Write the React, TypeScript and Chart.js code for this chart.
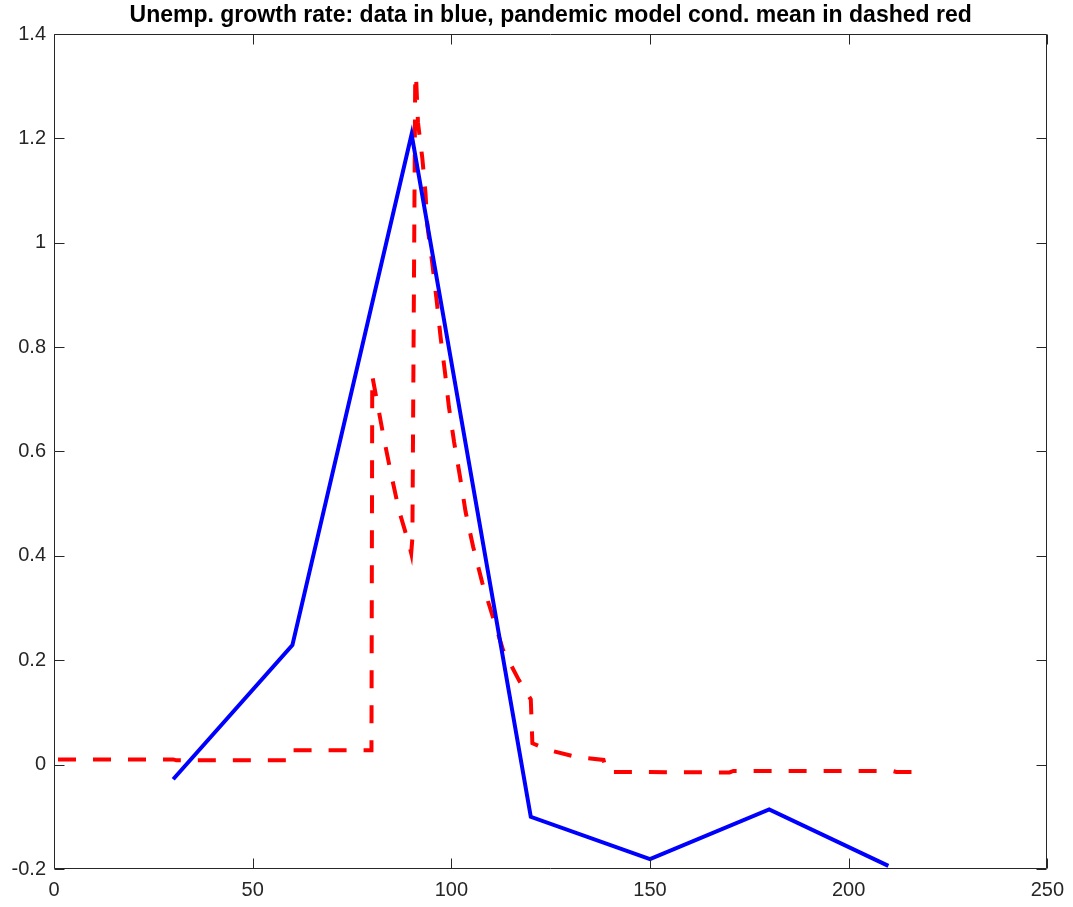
import React, { useEffect, useRef } from "react";
import { Chart, registerables } from "chart.js";

Chart.register(...registerables);

const titleText = "Unemp. growth rate: data in blue, pandemic model cond. mean in dashed red";

const xTicks = [0, 50, 100, 150, 200, 250];
const xTickLabels = ["0", "50", "100", "150", "200", "250"];
const yTicks = [-0.2, 0, 0.2, 0.4, 0.6, 0.8, 1, 1.2, 1.4];
const yTickLabels = ["-0.2", "0", "0.2", "0.4", "0.6", "0.8", "1", "1.2", "1.4"];

// Data (blue, solid)
const dataX = [30, 60, 90, 120, 150, 180, 210];
const dataY = [-0.028, 0.229, 1.208, -0.1, -0.181, -0.086, -0.194];

// Pandemic model conditional mean (red, dashed)
const modelX = [
  1, 30, 30.8, 60, 60.2, 79.9, 80.1, 81.4, 83.1, 84.9, 86.8, 89.4, 89.9, 90.2,
  90.9, 91.1, 91.6, 92.7, 93.5, 93.95, 95.2, 96.3, 97.3, 98.4, 99.4, 100.7,
  102.2, 103.6, 105.5, 107.8, 110.3, 113.0, 117.0, 120.0, 120.4, 124.5, 131.3,
  138.3, 139.1, 170, 171, 211, 212, 220,
];
const modelY = [
  0.01, 0.01, 0.0082, 0.0082, 0.0274, 0.0274, 0.745, 0.692, 0.622, 0.555,
  0.488, 0.421, 0.405, 0.434, 1.3, 1.322, 1.231, 1.162, 1.095, 1.034, 0.961,
  0.89, 0.819, 0.752, 0.685, 0.618, 0.551, 0.484, 0.417, 0.348, 0.287, 0.22,
  0.162, 0.125, 0.041, 0.028, 0.015, 0.009, -0.014, -0.015, -0.012, -0.012,
  -0.014, -0.014,
];

const AXIS_COLOR = "#262626";
const FONT_FAMILY = "'Liberation Sans', Arial, Helvetica, sans-serif";

const boxPlugin = {
  id: "matlabBox",
  afterDraw(chart: any) {
    const { ctx, chartArea } = chart;
    const { left, right, top, bottom } = chartArea;
    const xs = chart.scales.x;
    const ys = chart.scales.y;
    const L = Math.round(left) + 0.5;
    const R = Math.round(right) - 0.5;
    const T = Math.round(top) + 0.5;
    const B = Math.round(bottom) - 0.5;
    const tl = 10;
    ctx.save();
    ctx.strokeStyle = AXIS_COLOR;
    ctx.lineWidth = 1;
    ctx.beginPath();
    ctx.rect(L, T, R - L, B - T);
    xTicks.forEach((v) => {
      const px = Math.round(xs.getPixelForValue(v)) + 0.5;
      ctx.moveTo(px, B);
      ctx.lineTo(px, B - tl);
      ctx.moveTo(px, T);
      ctx.lineTo(px, T + tl);
    });
    yTicks.forEach((v) => {
      const py = Math.round(ys.getPixelForValue(v)) + 0.5;
      ctx.moveTo(L, py);
      ctx.lineTo(L + tl, py);
      ctx.moveTo(R, py);
      ctx.lineTo(R - tl, py);
    });
    ctx.stroke();
    ctx.restore();
  },
};

export default function App() {
  const ref = useRef<HTMLCanvasElement | null>(null);

  useEffect(() => {
    if (!ref.current) return;
    const chart = new Chart(ref.current, {
      type: "line",
      data: {
        datasets: [
          {
            label: "data",
            data: dataX.map((x, i) => ({ x, y: dataY[i] })),
            borderColor: "#0000FF",
            borderWidth: 4,
            pointRadius: 0,
            tension: 0,
            fill: false,
            borderJoinStyle: "miter",
          },
          {
            label: "model",
            data: modelX.map((x, i) => ({ x, y: modelY[i] })),
            borderColor: "#FF0000",
            borderWidth: 4,
            borderDash: [18, 17],
            pointRadius: 0,
            tension: 0,
            fill: false,
          },
        ],
      },
      options: {
        animation: false,
        responsive: false,
        maintainAspectRatio: false,
        layout: { padding: { left: 0, right: 23, top: 0, bottom: 0 } },
        plugins: {
          legend: { display: false },
          tooltip: { enabled: false },
          title: {
            display: true,
            fullSize: false,
            text: titleText,
            color: "#000000",
            font: { family: FONT_FAMILY, size: 23, weight: "bold" },
            padding: { top: 2, bottom: 4.4 },
          },
        },
        scales: {
          x: {
            type: "linear",
            min: 0,
            max: 250,
            grid: { display: false, drawTicks: false },
            border: { display: false },
            afterBuildTicks: (scale: any) => {
              scale.ticks = xTicks.map((v) => ({ value: v }));
            },
            afterFit: (scale: any) => {
              scale.height = 38;
            },
            ticks: {
              color: AXIS_COLOR,
              font: { family: FONT_FAMILY, size: 20 },
              padding: 9,
              maxRotation: 0,
              autoSkip: false,
              callback: (_v: any, i: number) => xTickLabels[i],
            },
          },
          y: {
            type: "linear",
            position: "left",
            min: -0.2,
            max: 1.4,
            grid: { display: false, drawTicks: false },
            border: { display: false },
            afterBuildTicks: (scale: any) => {
              scale.ticks = yTicks.map((v) => ({ value: v }));
            },
            afterFit: (scale: any) => {
              scale.width = 54;
            },
            ticks: {
              color: AXIS_COLOR,
              font: { family: FONT_FAMILY, size: 20 },
              padding: 8,
              autoSkip: false,
              callback: (_v: any, i: number) => yTickLabels[i],
            },
          },
        },
      },
      plugins: [boxPlugin],
    });
    return () => chart.destroy();
  }, []);

  return (
    <div style={{ position: "absolute", left: 0, top: 0, width: 1073, height: 907, background: "#fff" }}>
      <canvas ref={ref} width={1073} height={907} style={{ display: "block" }} />
    </div>
  );
}
